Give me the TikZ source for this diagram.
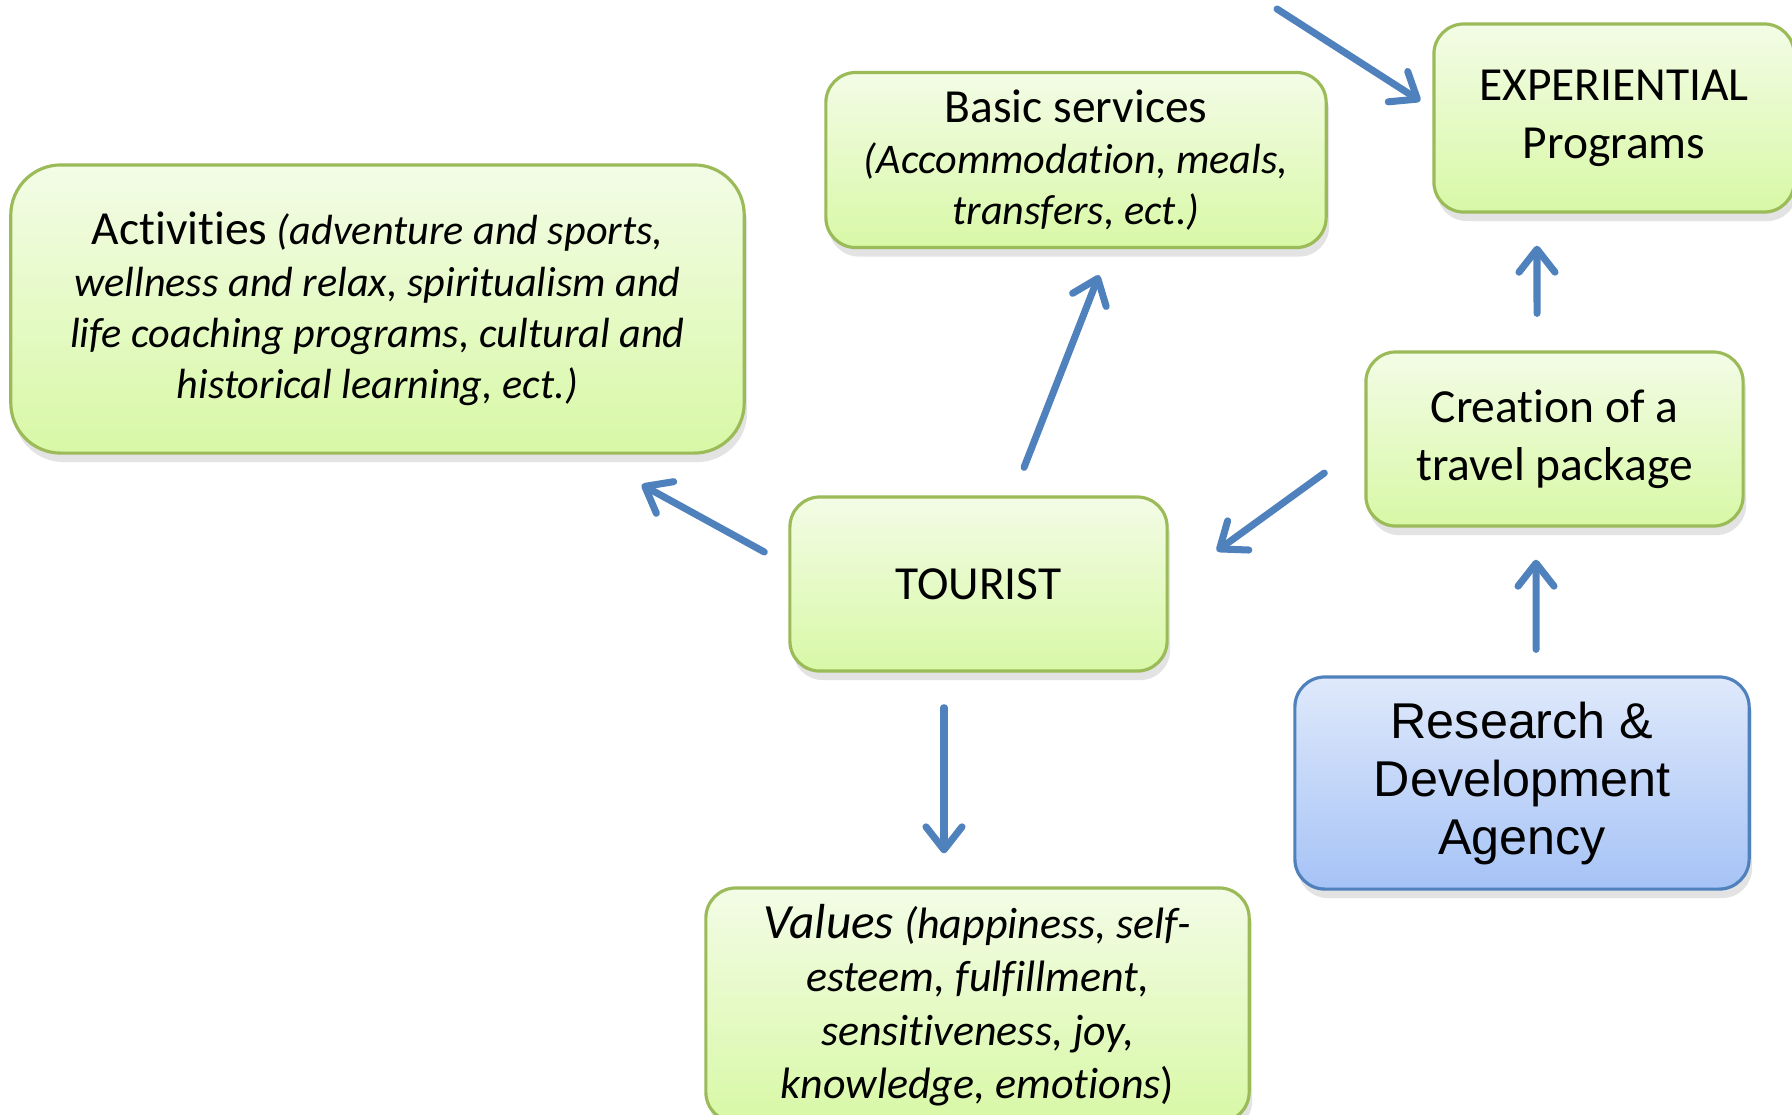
\documentclass[tikz,border=0pt]{standalone}
\usepackage{fontspec}
\setmainfont{Carlito}[Ligatures={NoCommon}]
\newfontfamily\arialfont{Liberation Sans}
\usetikzlibrary{arrows.meta,shadows}
\definecolor{boxline}{HTML}{9BBB59}
\definecolor{boxtop}{HTML}{F3FCE6}
\definecolor{boxbot}{HTML}{D8F8A6}
\definecolor{rdline}{HTML}{4F81BD}
\definecolor{rdtop}{HTML}{DFE9FB}
\definecolor{rdbot}{HTML}{A6C3F6}
\definecolor{arrowblue}{HTML}{4F81BD}
\tikzset{
  greenbox/.style={draw=boxline,line width=0.9pt,top color=boxtop,bottom color=boxbot,
    rounded corners=0.3cm,align=center,inner sep=0pt,
    drop shadow={shadow xshift=0.3mm,shadow yshift=-0.9mm,opacity=0.22}},
  bluebox/.style={greenbox,draw=rdline,top color=rdtop,bottom color=rdbot},
  flow/.style={arrowblue,line width=2pt,line cap=round,
    -{Straight Barb[length=2.3mm,width=3.6mm,line cap=round,line join=round]}}
}
\newcommand{\headword}[1]{{\fontsize{13.5}{16.5}\selectfont #1}}

\begin{document}
\begin{tikzpicture}[x=0.01cm,y=-0.01cm]
    \useasboundingbox[fill=white] (0,0) rectangle (1792,1114);
    \node[greenbox,minimum width=7.33cm,minimum height=2.88cm,rounded corners=0.5cm,
      font=\fontsize{12}{14.6}\selectfont] (act) at (377.5,309)
      {\headword{Activities} \textit{(adventure and sports,}\\
       \textit{wellness and relax, spiritualism and}\\
       \textit{life coaching programs, cultural and}\\
       \textit{historical learning, ect.)}};
    \node[greenbox,minimum width=5cm,minimum height=1.75cm,
      font=\fontsize{12}{14.6}\selectfont] (basic) at (1076,160)
      {\headword{Basic services}\\ \textit{(Accommodation, meals,}\\ \textit{transfers, ect.)}};
    \node[greenbox,minimum width=3.6cm,minimum height=1.88cm,
      font=\fontsize{13.5}{16.5}\selectfont] (exper) at (1614,118)
      {EXPERIENTIAL\\Programs};
    \node[greenbox,minimum width=3.77cm,minimum height=1.74cm,
      font=\fontsize{13.5}{16.5}\selectfont] (creat) at (1554.5,439)
      {Creation of a\\travel package};
    \node[greenbox,minimum width=3.77cm,minimum height=1.74cm,
      font=\fontsize{13.5}{16.5}\selectfont] (tour) at (978.5,584) {TOURIST};
    \node[bluebox,minimum width=4.54cm,minimum height=2.12cm,
      font=\arialfont\fontsize{14.3}{16.5}\selectfont] (rd) at (1522,783)
      {Research \&\\Development\\Agency};
    \node[greenbox,minimum width=5.43cm,minimum height=2.34cm,
      font=\fontsize{12.5}{15.2}\selectfont] (val) at (977.5,1005)
      {\textit{{\fontsize{14}{15.2}\selectfont Values} (happiness, self-}\\
       \textit{esteem, fulfillment,}\\ \textit{sensitiveness, joy,}\\
       \textit{knowledge, emotions})};
    \coordinate (topin) at (1277,9);
    \draw[flow] (topin) -- ([xshift=-0.12cm,yshift=0.17cm]exper.west);
    \draw[flow] ([xshift=0.455cm,yshift=0.28cm]tour.north) -- ([xshift=0.23cm,yshift=-0.26cm]basic.south);
    \draw[flow] ([xshift=-0.24cm,yshift=0.32cm]tour.west) -- ([xshift=-1.04cm,yshift=-0.30cm]act.south east);
    \draw[flow] ([xshift=-0.345cm,yshift=-0.35cm]tour.south) -- ([xshift=-0.335cm,yshift=0.33cm]val.north);
    \draw[flow] ([xshift=-0.40cm,yshift=-0.34cm]creat.west) -- ([xshift=0.48cm,yshift=0.33cm]tour.east);
    \draw[flow] ([xshift=-0.175cm,yshift=0.37cm]creat.north) -- ([xshift=-0.77cm,yshift=-0.32cm]exper.south);
    \draw[flow] ([xshift=0.14cm,yshift=0.26cm]rd.north) -- ([xshift=-0.185cm,yshift=-0.32cm]creat.south);
\end{tikzpicture}
\end{document}
